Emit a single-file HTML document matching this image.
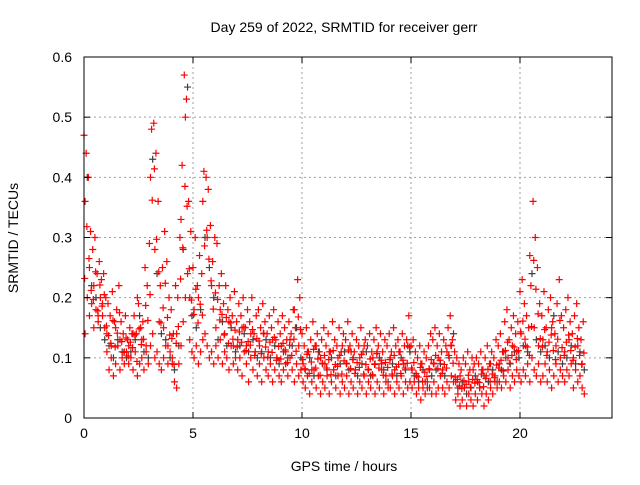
<!DOCTYPE html>
<html><head><meta charset="utf-8"><style>
body{margin:0;background:#fff;}
svg text{font-family:"Liberation Sans",sans-serif;font-size:14px;fill:#000;}
</style></head><body>
<svg id="chart" width="640" height="480" xmlns="http://www.w3.org/2000/svg">
<rect width="640" height="480" fill="#fff"/>
<g id="grid"></g>
<g id="marks"></g>
<rect x="84" y="57" width="528" height="361" fill="none" stroke="#000" stroke-width="1"/>
<g id="ticks"></g>
<text x="344" y="32" text-anchor="middle">Day 259 of 2022, SRMTID for receiver gerr</text>
<text x="344" y="471" text-anchor="middle">GPS time / hours</text>
<text x="18" y="238" text-anchor="middle" transform="rotate(-90 18 238)">SRMTID / TECUs</text>
</svg>
<script>
const xTicks=[0,5,10,15,20];
const yTicks=[0,0.1,0.2,0.3,0.4,0.5,0.6];
const yTickLabels=["0","0.1","0.2","0.3","0.4","0.5","0.6"];
const startA=0.0, stepA=0.1;
const seriesA=[.47,.44,.40,.31,.28,.30,.24,.26,.23,.24,.20,.19,.17,.21,.16,.18,.22,.16,.14,.17,.13,.15,.14,.17,.14,.19,.15,.16,.25,.22,.29,.48,.49,.44,.36,.22,.25,.31,.26,.20,.18,.14,.22,.20,.30,.42,.57,.53,.36,.31,.25,.30,.22,.27,.24,.41,.40,.38,.32,.26,.30,.29,.22,.24,.19,.22,.18,.20,.17,.21,.16,.19,.17,.20,.15,.18,.16,.20,.14,.17,.18,.15,.19,.16,.14,.17,.15,.18,.13,.16,.14,.17,.15,.13,.16,.14,.18,.15,.23,.20,.14,.12,.15,.11,.13,.16,.12,.14,.11,.13,.15,.12,.14,.11,.16,.13,.12,.15,.11,.14,.13,.16,.12,.14,.11,.13,.12,.15,.11,.13,.12,.14,.11,.13,.15,.12,.14,.11,.13,.12,.14,.11,.15,.12,.13,.11,.14,.12,.13,.17,.12,.13,.11,.10,.12,.09,.11,.10,.12,.14,.13,.15,.12,.14,.11,.13,.12,.15,.17,.13,.11,.10,.09,.08,.10,.09,.11,.08,.10,.09,.10,.09,.11,.08,.10,.12,.09,.11,.10,.13,.12,.14,.11,.16,.18,.13,.15,.17,.14,.16,.21,.23,.19,.17,.15,.22,.36,.30,.25,.19,.17,.21,.15,.18,.20,.16,.14,.19,.23,.17,.15,.18,.20,.16,.14,.17,.19,.15,.13,.16];
const seriesB=[.14,.20,.17,.19,.15,.18,.16,.20,.17,.15,.11,.08,.10,.07,.09,.12,.08,.10,.09,.11,.09,.10,.08,.11,.07,.09,.10,.08,.11,.09,.12,.14,.10,.11,.09,.08,.10,.12,.09,.11,.10,.06,.05,.09,.12,.16,.20,.24,.13,.11,.10,.12,.09,.11,.13,.14,.12,.10,.11,.09,.12,.10,.13,.09,.11,.10,.08,.12,.09,.10,.08,.10,.07,.11,.09,.06,.10,.08,.11,.07,.09,.06,.10,.08,.07,.09,.06,.08,.10,.07,.06,.08,.09,.07,.10,.08,.06,.09,.07,.08,.06,.05,.07,.04,.06,.08,.05,.07,.04,.06,.05,.07,.04,.06,.08,.05,.07,.04,.06,.05,.07,.04,.06,.05,.08,.04,.06,.05,.07,.04,.06,.05,.07,.04,.06,.05,.08,.04,.06,.05,.05,.07,.04,.06,.05,.07,.04,.06,.05,.06,.05,.06,.04,.05,.03,.05,.04,.06,.05,.04,.06,.04,.05,.07,.05,.04,.06,.05,.07,.06,.03,.04,.02,.03,.05,.02,.04,.03,.02,.04,.03,.05,.04,.02,.04,.03,.05,.04,.06,.05,.06,.05,.07,.06,.08,.05,.07,.06,.08,.07,.06,.08,.07,.09,.06,.10,.08,.07,.09,.06,.07,.09,.06,.08,.05,.07,.09,.06,.08,.07,.06,.08,.07,.09,.05,.08,.06,.07,.05,.04];
const startE=0.03;
const seriesE=[.232,.318,.265,.212,.197,.243,.178,.221,.186,.205,.153,.137,.124,.162,.118,.141,.175,.127,.109,.133,.103,.126,.117,.138,.094,.148,.122,.131,.187,.162,.205,.362,.414,.297,.243,.158,.183,.224,.167,.138,.132,.089,.124,.152,.231,.283,.385,.352,.248,.196,.172,.214,.158,.189,.171,.286,.312,.264,.228,.181,.208,.197,.163,.172,.138,.167,.124,.158,.131,.146,.118,.143,.126,.151,.112,.127,.121,.147,.104,.132,.128,.107,.141,.118,.101,.126,.109,.134,.096,.119,.098,.124,.113,.092,.121,.104,.131,.111,.168,.147,.097,.082,.106,.074,.093,.114,.083,.098,.071,.091,.104,.083,.097,.072,.112,.089,.086,.104,.073,.095,.091,.113,.082,.097,.074,.092,.084,.106,.073,.089,.081,.098,.072,.089,.107,.083,.096,.071,.092,.084,.097,.073,.104,.085,.089,.074,.096,.083,.091,.118,.083,.092,.074,.068,.084,.061,.076,.069,.082,.097,.091,.104,.082,.096,.074,.089,.083,.104,.121,.091,.068,.064,.053,.049,.062,.056,.071,.051,.064,.058,.064,.059,.073,.052,.066,.081,.061,.073,.067,.088,.083,.096,.078,.112,.126,.091,.104,.118,.097,.112,.143,.161,.131,.118,.104,.152,.262,.214,.173,.132,.118,.147,.104,.126,.138,.112,.097,.131,.162,.117,.104,.126,.138,.112,.096,.118,.132,.104,.089,.108];
const startC=0.05, stepC=0.2;
const seriesC=[.36,.25,.22,.17,.19,.14,.12,.15,.13,.11,.12,.14,.20,.13,.12,.40,.28,.16,.15,.12,.09,.14,.33,.50,.20,.18,.20,.36,.30,.22,.15,.18,.14,.16,.12,.13,.15,.12,.14,.11,.12,.14,.11,.13,.10,.12,.11,.13,.18,.12,.09,.11,.08,.12,.10,.09,.11,.08,.10,.12,.09,.11,.08,.10,.12,.08,.10,.11,.09,.07,.10,.08,.11,.09,.12,.08,.07,.09,.06,.08,.09,.10,.08,.11,.12,.06,.07,.05,.06,.08,.06,.08,.07,.09,.07,.09,.11,.10,.12,.11,.14,.12,.27,.15,.12,.13,.11,.15,.12,.10,.11,.13,.10,.12,.09];
const startD=0.15, stepD=0.2;
const seriesGray=[.40,.22,.20,.15,.13,.12,.10,.13,.11,.10,.11,.13,.17,.11,.10,.43,.24,.14,.13,.10,.08,.12,.28,.55,.17,.15,.18,.30,.25,.20,.13,.16,.12,.15,.11,.12,.14,.11,.13,.10,.11,.13,.10,.12,.09,.11,.10,.12,.15,.10,.08,.10,.07,.11,.09,.08,.10,.07,.09,.11,.08,.10,.07,.09,.11,.07,.09,.10,.08,.06,.09,.07,.10,.08,.11,.07,.06,.08,.05,.07,.08,.09,.07,.10,.14,.05,.06,.04,.05,.07,.05,.07,.06,.08,.06,.08,.10,.09,.11,.10,.12,.11,.24,.13,.11,.12,.10,.17,.11,.09,.10,.12,.09,.11,.08];

const X0=84,X1=612,Y0=418,Y1=57,XMAX=(612-84)/21.8;
const xs=v=>X0+v/XMAX*(X1-X0);
const ys=v=>Y0-v/0.6*(Y0-Y1);
const NS="http://www.w3.org/2000/svg";
function mk(tag,parent){const e=document.createElementNS(NS,tag);parent.appendChild(e);return e;}
const grid=document.getElementById('grid'),ticks=document.getElementById('ticks'),marks=document.getElementById('marks');
xTicks.forEach(t=>{
  const x=xs(t);
  if(t>0){const g=mk('line',grid);g.setAttribute('x1',x);g.setAttribute('x2',x);g.setAttribute('y1',Y1);g.setAttribute('y2',Y0);g.setAttribute('stroke','#a0a0a0');g.setAttribute('stroke-dasharray','2,3');
  
  }
  [[Y0,Y0-6],[Y1,Y1+6]].forEach(p=>{const l=mk('line',ticks);l.setAttribute('x1',x);l.setAttribute('x2',x);l.setAttribute('y1',p[0]);l.setAttribute('y2',p[1]);l.setAttribute('stroke','#000');
  
  });
  const tx=mk('text',ticks);tx.setAttribute('x',x);tx.setAttribute('y',Y0+20);tx.setAttribute('text-anchor','middle');tx.textContent=t;
  
  
});
yTicks.forEach((t,i)=>{
  const y=ys(t);
  if(t>0&&t<0.6){const g=mk('line',grid);g.setAttribute('x1',X0);g.setAttribute('x2',X1);g.setAttribute('y1',y);g.setAttribute('y2',y);g.setAttribute('stroke','#a0a0a0');g.setAttribute('stroke-dasharray','2,3');
  
  }
  [[X0,X0+6],[X1,X1-6]].forEach(p=>{const l=mk('line',ticks);l.setAttribute('y1',y);l.setAttribute('y2',y);l.setAttribute('x1',p[0]);l.setAttribute('x2',p[1]);l.setAttribute('stroke','#000');
  
  });
  const tx=mk('text',ticks);tx.setAttribute('x',X0-12);tx.setAttribute('y',y+5);tx.setAttribute('text-anchor','end');tx.textContent=yTickLabels[i];
  
  
});
function plus(t,v,color){
  const x=xs(t),y=ys(v);
  const p=mk('path',marks);
  p.setAttribute('d',`M${x-3.5},${y}H${x+3.5}M${x},${y-3.5}V${y+3.5}`);
  p.setAttribute('stroke',color);p.setAttribute('stroke-width','1.2');
  
  
}
seriesGray.forEach((v,i)=>plus(startD+i*stepD,v,'#404040'));
seriesA.forEach((v,i)=>plus(startA+i*stepA,v,'#ff0000'));
seriesB.forEach((v,i)=>plus(startA+i*stepA+0.05,v,'#ff0000'));
seriesE.forEach((v,i)=>plus(startE+i*stepA,v,'#ff0000'));
seriesC.forEach((v,i)=>plus(startC+i*stepC,v,'#ff0000'));
</script>
</body></html>
